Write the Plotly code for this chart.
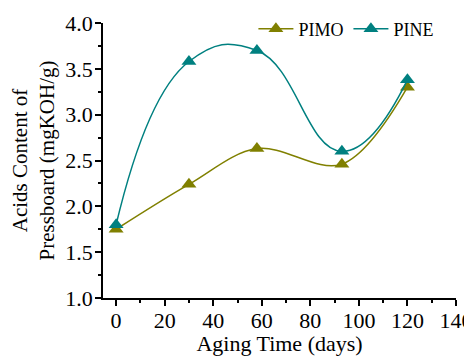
import plotly.graph_objects as go

days = [0, 30, 58, 93, 120]
pimo = [1.75, 2.24, 2.63, 2.46, 3.30]
pine = [1.80, 3.58, 3.70, 2.60, 3.38]

olive = "#808000"
teal = "#008080"
font = "Liberation Serif"

fig = go.Figure()
fig.add_trace(go.Scatter(x=days, y=pimo, name="PIMO", mode="lines+markers",
                         line=dict(color=olive, width=1.5, shape="spline", smoothing=1.0),
                         marker=dict(symbol="triangle-up", size=13, color=olive)))
fig.add_trace(go.Scatter(x=days, y=pine, name="PINE", mode="lines+markers",
                         line=dict(color=teal, width=1.5, shape="spline", smoothing=1.3),
                         marker=dict(symbol="triangle-up", size=13, color=teal)))

# the page body has an 8px margin, so the figure is 464x348 and offset by 8px
fig.update_layout(
    width=464, height=348,
    margin=dict(l=95, r=16, t=15, b=58, autoexpand=False),
    paper_bgcolor="white", plot_bgcolor="white",
    font=dict(family=font, size=22, color="black"),
    showlegend=True,
    legend=dict(orientation="h", x=0.953, y=0.978, xanchor="right", yanchor="middle",
                font=dict(family=font, size=18), bgcolor="rgba(0,0,0,0)",
                itemwidth=35, tracegroupgap=0),
    xaxis=dict(range=[-5.4, 140], tickvals=list(range(0, 141, 20)),
               ticklabeloverflow="allow", ticklabelstandoff=-4,
               showgrid=False, zeroline=False, showline=True, linecolor="black", linewidth=1.5,
               ticks="outside", ticklen=6, tickwidth=1.5, tickcolor="black",
               minor=dict(tickvals=list(range(10, 140, 20)), ticks="outside", ticklen=3, tickcolor="black"),
               title=dict(text="Aging Time (days)", standoff=5, font=dict(size=22))),
    yaxis=dict(range=[1.0, 4.0], tickvals=[1.0, 1.5, 2.0, 2.5, 3.0, 3.5, 4.0], tickformat=".1f",
               ticklabelstandoff=-2,
               showgrid=False, zeroline=False, showline=True, linecolor="black", linewidth=1.5,
               ticks="outside", ticklen=6, tickwidth=1.5, tickcolor="black",
               minor=dict(tickvals=[1.25, 1.75, 2.25, 2.75, 3.25, 3.75], ticks="outside", ticklen=3, tickcolor="black"),
               title=dict(text="Acids Content of<br>Pressboard (mgKOH/g)", standoff=5, font=dict(size=21))),
)

fig.write_html("out.html")
